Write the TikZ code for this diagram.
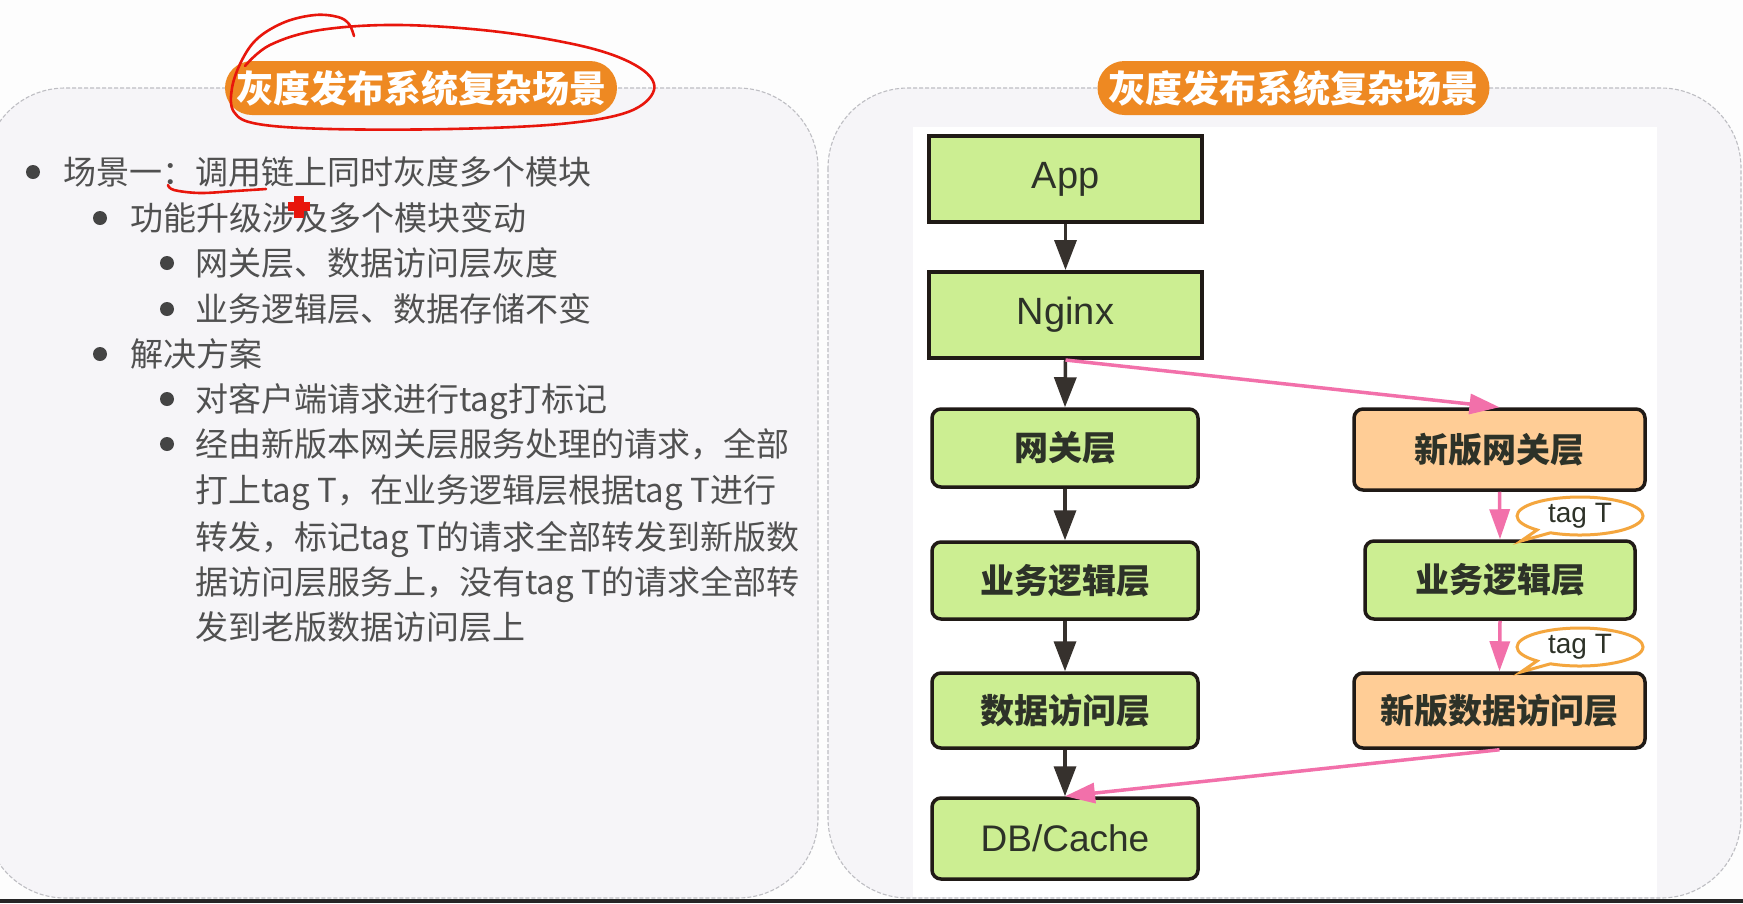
\documentclass[tikz,border=0pt]{standalone}
\usepackage{fontspec}
\newfontfamily\cjk{Noto Sans CJK SC}
\newfontfamily\lat{Liberation Sans}
\usetikzlibrary{arrows.meta,shapes.callouts}
\definecolor{bgwhite}{RGB}{253,253,253}
\definecolor{panelfill}{RGB}{246,245,248}
\definecolor{panelline}{RGB}{190,190,195}
\definecolor{pillorange}{RGB}{238,137,34}
\definecolor{boxgreen}{RGB}{204,238,146}
\definecolor{boxorange}{RGB}{255,205,150}
\definecolor{boxline}{RGB}{32,26,22}
\definecolor{pinkline}{RGB}{242,112,170}
\definecolor{tagline}{RGB}{244,166,62}
\definecolor{bodytext}{RGB}{80,80,80}
\definecolor{labeltext}{RGB}{45,50,40}
\definecolor{annot}{RGB}{232,22,12}
\begin{document}
\begin{tikzpicture}[x=1pt,y=-1pt,
  panel/.style={draw=panelline, line width=1.1pt, dash pattern=on 4pt off 2pt, fill=panelfill, rounded corners=80pt},
  pill/.style={fill=pillorange, rounded corners=27pt, minimum width=392pt, minimum height=54pt, inner sep=0pt,
    text=white, font=\cjk\bfseries\fontsize{37}{37}\selectfont},
  txt/.style={anchor=west, inner sep=0pt, text=bodytext, text height=29pt, text depth=4pt,
    font=\cjk\fontsize{33}{33}\selectfont},
  bul/.style={fill=bodytext!85!black},
  sqbox/.style={draw=boxline, line width=4pt, fill=boxgreen, inner sep=0pt, text=labeltext,
    font=\lat\fontsize{38}{38}\selectfont},
  rbox/.style={draw=boxline, line width=3.5pt, rounded corners=9pt, inner sep=0pt, text=labeltext,
    font=\cjk\bfseries\fontsize{34}{34}\selectfont},
  gbox/.style={rbox, fill=boxgreen},
  obox/.style={rbox, fill=boxorange},
  blackarrow/.style={draw=boxline!90!white, line width=3.5pt, -{Triangle[length=30pt,width=22pt]}},
  pinkarrow/.style={draw=pinkline, line width=3.5pt, -{Triangle[length=30pt,width=20pt]}},
  tagbubble/.style={ellipse callout, draw=tagline, line width=3pt, fill=white, inner sep=0pt,
    minimum width=126pt, minimum height=38pt, text=labeltext, font=\lat\fontsize{28}{28}\selectfont},
  annotline/.style={draw=annot, line width=2.6pt, line cap=round, line join=round}
]
\useasboundingbox (0,0) rectangle (1743,903);
\fill[bgwhite] (0,0) rectangle (1743,903);

% panels
\path[panel] (-15,88) rectangle (818,898);
\path[panel] (828,88) rectangle (1741,898);
\fill[white] (913,127) rectangle (1657,897);

% titles
\node[pill] (t1) at (421,88) {灰度发布系统复杂场景};
\node[pill] (t2) at (1293.5,88) {灰度发布系统复杂场景};

% left text
\fill[bul] (33,172) circle (7pt);
\node[txt] (l1) at (63,172) {场景一：调用链上同时灰度多个模块};
\fill[bul] (100,218) circle (7pt);
\node[txt] (l2) at (130,218) {功能升级涉及多个模块变动};
\fill[bul] (167,263) circle (7pt);
\node[txt] (l3) at (195,263) {网关层、数据访问层灰度};
\fill[bul] (167,309) circle (7pt);
\node[txt] (l4) at (195,309) {业务逻辑层、数据存储不变};
\fill[bul] (100,354) circle (7pt);
\node[txt] (l5) at (130,354) {解决方案};
\fill[bul] (167,399) circle (7pt);
\node[txt] (l6) at (195,399) {对客户端请求进行tag打标记};
\fill[bul] (167,444) circle (7pt);
\node[txt] (l7) at (195,444) {经由新版本网关层服务处理的请求，全部};
\node[txt] (l8) at (195,490) {打上tag T，在业务逻辑层根据tag T进行};
\node[txt] (l9) at (195,537) {转发，标记tag T的请求全部转发到新版数};
\node[txt] (l10) at (195,582) {据访问层服务上，没有tag T的请求全部转};
\node[txt] (l11) at (195,627) {发到老版数据访问层上};

% diagram nodes
\node[sqbox, minimum width=273pt, minimum height=86pt] (app) at (1065.5,179) {App};
\node[sqbox, minimum width=273pt, minimum height=86pt] (nginx) at (1065.5,315) {Nginx};
\node[gbox, minimum width=266pt, minimum height=78pt] (gw) at (1065,448) {网关层};
\node[gbox, minimum width=266pt, minimum height=77pt] (bizl) at (1065,580.5) {业务逻辑层};
\node[gbox, minimum width=266pt, minimum height=75pt] (dal) at (1065,710.5) {数据访问层};
\node[gbox, minimum width=266pt, minimum height=81pt, font=\lat\fontsize{37}{37}\selectfont] (db) at (1065,838.5) {DB/Cache};
\node[obox, minimum width=291pt, minimum height=81pt] (ngw) at (1499.5,449.5) {新版网关层};
\node[gbox, minimum width=270pt, minimum height=78pt] (bizr) at (1500,580) {业务逻辑层};
\node[obox, minimum width=291pt, minimum height=75pt] (ndal) at (1499.5,710.5) {新版数据访问层};

% connectors
\draw[blackarrow] (app.south) -- (nginx.north);
\draw[blackarrow] (nginx.south) -- (gw.north);
\draw[blackarrow] (gw.south) -- (bizl.north);
\draw[blackarrow] (bizl.south) -- (dal.north);
\draw[blackarrow] (dal.south) -- (db.north);
\draw[pinkarrow] (nginx.south) -- (ngw.north);
\draw[pinkarrow] (ngw.south) -- (bizr.north);
\draw[pinkarrow] (bizr.south) -- (ndal.north);
\draw[pinkarrow] (ndal.south) -- (db.north);

% tag bubbles
\node[tagbubble, callout absolute pointer={(1521,541)}] (tag1) at (1580,516) {tag T};
\node[tagbubble, callout absolute pointer={(1521,672)}] (tag2) at (1580,647) {tag T};

% red hand annotations
\draw[annotline] plot[smooth, tension=0.6] coordinates {(354,36) (349,24) (338,17) (315,15) (285,22) (258,38) (242,60) (232,88) (234,112) (258,124) (330,129) (450,129) (560,124) (628,112) (654,90) (640,68) (590,48) (500,32) (400,25) (320,30) (270,45) (245,66)};
\draw[annotline] plot[smooth, tension=0.6] coordinates {(168,185) (174,190) (200,193) (235,191) (266,189)};
\fill[annot] (294,196) rectangle (304,218);
\fill[annot] (288,202) rectangle (310,211);

% bottom band
\fill[black!85] (0,899) rectangle (1743,903);
\end{tikzpicture}
\end{document}
